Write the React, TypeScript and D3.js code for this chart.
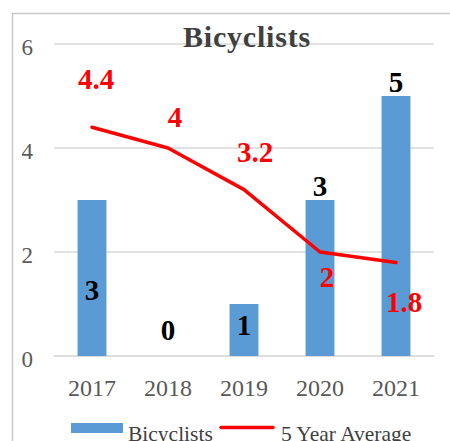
import React from "react";
import * as d3 from "d3";

const years = ["2017", "2018", "2019", "2020", "2021"];
const bicyclists = [3, 0, 1, 3, 5];
const fiveYearAvg = [4.4, 4, 3.2, 2, 1.8];
const yTicks = [0, 2, 4, 6];
// label offsets (px) relative to their anchor
const avgLabelDx = [4, 7, 11, 7, 8];
const avgLabelDy = [-38, -21, -28, 35, 50];
const barLabelMode = ["inside", "base", "inside", "top", "top"];

const W = 450;
const H = 441;
const serif = "'Times New Roman', 'Liberation Serif', serif";

export default function App() {
  const x = d3.scaleBand<string>().domain(years).range([54, 434]).paddingInner(0.62).paddingOuter(0.31);
  const y = d3.scaleLinear().domain([0, 6]).range([356, 44]);
  const cx = (d: string) => (x(d) as number) + x.bandwidth() / 2;
  const line = d3
    .line<number>()
    .x((_, i) => cx(years[i]))
    .y((d) => y(d));

  const barLabelY = (v: number, i: number) => {
    const m = barLabelMode[i];
    if (m === "top") return y(v) - 4;
    if (m === "base") return y(0) - 16;
    if (v >= 3) return y(0) - 56;
    return y(0) - 21;
  };

  return (
    <svg width={W} height={H} style={{ position: "absolute", left: 0, top: 0, background: "#fff" }}>
      <rect x={12.5} y={13.5} width={460} height={460} fill="#fff" stroke="#c8c8c8" strokeWidth={1.5} />
      {yTicks.map((t) => (
        <g key={t}>
          <line x1={54} x2={434} y1={y(t)} y2={y(t)} stroke={t === 0 ? "#d0d0d0" : "#d9d9d9"} strokeWidth={1.5} />
          <text x={33} y={y(t) + 11} textAnchor="end" fontFamily={serif} fontSize={23} fill="#595959">
            {t}
          </text>
        </g>
      ))}
      <text x={247} y={47} textAnchor="middle" fontFamily={serif} fontSize={30} fontWeight="bold" fill="#404040" letterSpacing={0.8}>
        Bicyclists
      </text>
      {bicyclists.map((v, i) => (
        <rect key={i} x={x(years[i])} y={y(v)} width={x.bandwidth()} height={y(0) - y(v)} fill="#5b9bd5" />
      ))}
      <path d={line(fiveYearAvg) || ""} fill="none" stroke="#ff0000" strokeWidth={3.5} strokeLinejoin="round" strokeLinecap="round" />
      {bicyclists.map((v, i) => (
        <text key={i} x={cx(years[i])} y={barLabelY(v, i)} textAnchor="middle" fontFamily={serif} fontSize={29} fontWeight="bold" fill="#000">
          {v}
        </text>
      ))}
      {fiveYearAvg.map((v, i) => (
        <text key={i} x={cx(years[i]) + avgLabelDx[i]} y={y(v) + avgLabelDy[i]} textAnchor="middle" fontFamily={serif} fontSize={29} fontWeight="bold" fill="#ff0000">
          {v}
        </text>
      ))}
      {years.map((yr) => (
        <text key={yr} x={cx(yr)} y={396} textAnchor="middle" fontFamily={serif} fontSize={24} fill="#595959">
          {yr}
        </text>
      ))}
      <rect x={71} y={423} width={52} height={10} fill="#5b9bd5" />
      <text x={128} y={441} fontFamily={serif} fontSize={21.5} fill="#404040">
        Bicyclists
      </text>
      <line x1={221} x2={273} y1={427.5} y2={427.5} stroke="#ff0000" strokeWidth={3.5} strokeLinecap="round" />
      <text x={281} y={441} fontFamily={serif} fontSize={21.5} fill="#404040">
        5 Year Average
      </text>
    </svg>
  );
}
